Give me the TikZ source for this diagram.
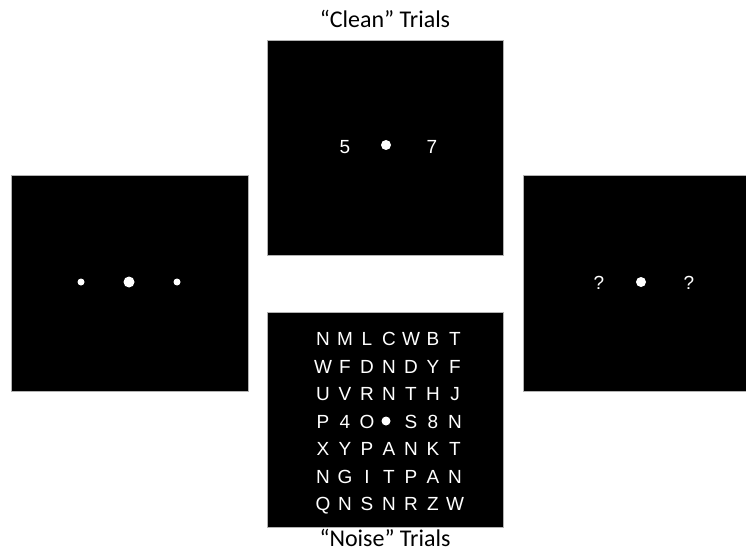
\documentclass[tikz,border=0pt]{standalone}
\usepackage{fontspec}
\setmainfont{Carlito}
\newfontfamily\stimfont{Liberation Sans}
\usetikzlibrary{positioning}
\tikzset{
  panel/.style={fill=black, draw=gray!60, line width=0.6pt, inner sep=0pt},
  stim/.style={text=white, font=\stimfont\fontsize{19}{19}\selectfont, inner sep=0pt, text depth=0pt},
  dot/.style={circle, fill=white, inner sep=0pt},
  trial/.style={font=\fontsize{24}{28}\selectfont, inner sep=0pt}
}
\begin{document}
\begin{tikzpicture}[x=1pt, y=-1pt]
\useasboundingbox (0,0) rectangle (746,553);
% Panels
\node[panel, minimum width=237pt, minimum height=216pt] (cue) at (129.5,283) {};
\node[panel, minimum width=236pt, minimum height=215pt] (clean) at (385,147.5) {};
\node[panel, minimum width=236pt, minimum height=215pt] (noise) at (385,419.5) {};
\node[panel, minimum width=226pt, minimum height=216pt] (probe) at (636,283) {};
% Labels
\node[trial, above=12pt of clean] (cleanlabel) {“Clean” Trials};
\node[trial, below=2pt of noise] (noiselabel) {“Noise” Trials};
% Cue dots
\node[dot, minimum size=7pt] (cue-l) at (81,282) {};
\node[dot, minimum size=11pt] (cue-c) at (129,282) {};
\node[dot, minimum size=7pt] (cue-r) at (177,282) {};
% Clean trial
\node[stim] (clean-l) at (345,147) {5};
\node[dot, minimum size=10pt] (clean-c) at (386,145) {};
\node[stim] (clean-r) at (432,147) {7};
% Noise trial
\foreach \rowlist [count=\r] in {{N,M,L,C,W,B,T},{W,F,D,N,D,Y,F},{U,V,R,N,T,H,J},{P,4,O,-,S,8,N},{X,Y,P,A,N,K,T},{N,G,I,T,P,A,N},{Q,N,S,N,R,Z,W}}
  \foreach \ltr [count=\c] in \rowlist {
    \if\ltr- \else \node[stim] (n-\r-\c) at ({301+22*\c},{311.5+27.5*\r}) {\ltr}; \fi
  }
\node[dot, minimum size=9pt] (noise-c) at (386,421) {};
% Probe
\node[stim] (probe-l) at (599,283) {?};
\node[dot, minimum size=10pt] (probe-c) at (641,282) {};
\node[stim] (probe-r) at (689,283) {?};
\end{tikzpicture}
\end{document}
